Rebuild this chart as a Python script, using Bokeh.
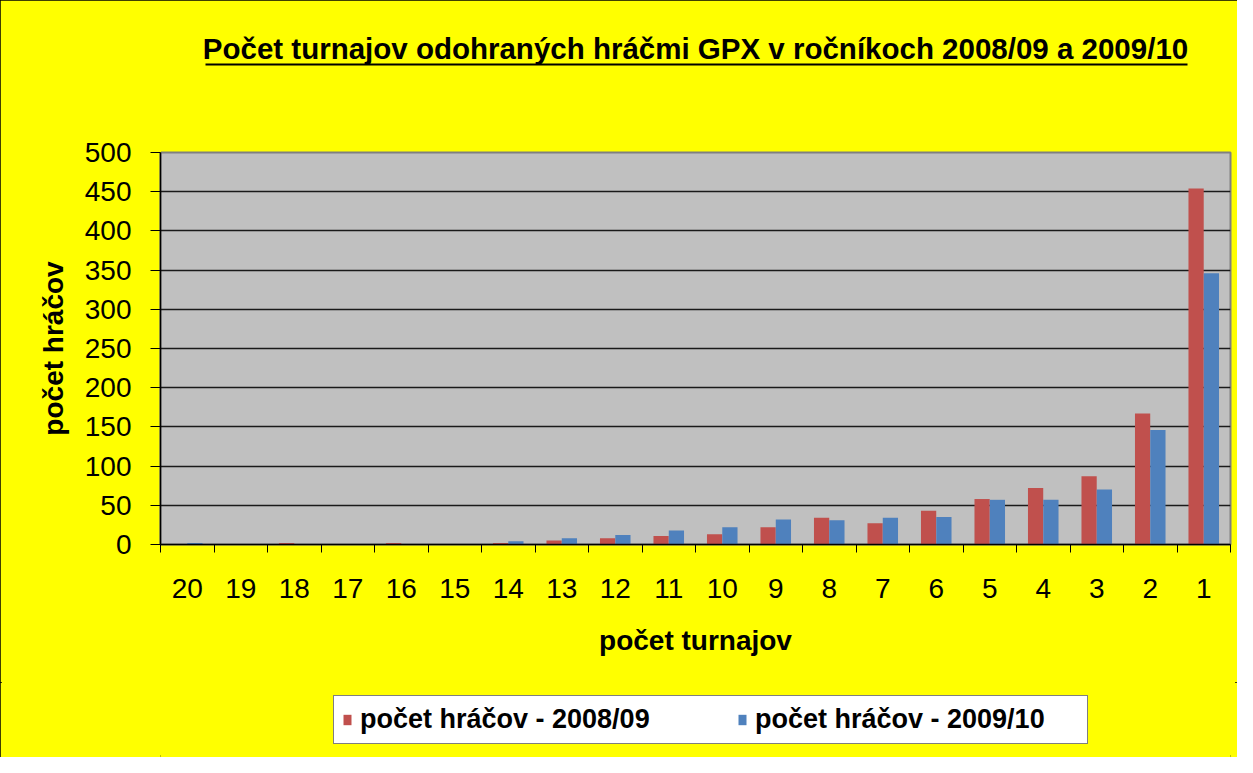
from bokeh.plotting import figure
from bokeh.layouts import column
from bokeh.models import (ColumnDataSource, FactorRange, Range1d, LinearAxis,
                          FixedTicker, CategoricalAxis, Legend, LegendItem, Title)
from bokeh.transform import dodge
from bokeh.embed import file_html
from bokeh.resources import INLINE

# ---- data ----
cats = ["20", "19", "18", "17", "16", "15", "14", "13", "12", "11",
        "10", "9", "8", "7", "6", "5", "4", "3", "2", "1"]
players_0809 = [0, 0, 2, 0, 2, 0, 2, 5, 8, 11, 13, 22, 34, 27, 43, 58, 72, 87, 167, 454]
players_0910 = [2, 0, 0, 0, 0, 0, 4, 8, 12, 18, 22, 32, 31, 34, 35, 57, 57, 70, 146, 346]
y_ticks = [0, 50, 100, 150, 200, 250, 300, 350, 400, 450, 500]
series_names = ["počet hráčov - 2008/09", "počet hráčov - 2009/10"]
title_text = "Počet turnajov odohraných hráčmi GPX v ročníkoch 2008/09 a 2009/10"
x_title = "počet turnajov"
y_title = "počet hráčov"

FONT = "Liberation Sans"
RED = "#C0504D"
BLUE = "#4F81BD"
BG = "#FFFF00"

src = ColumnDataSource(dict(cats=cats, a=players_0809, b=players_0910))

p = figure(x_range=FactorRange(factors=cats, range_padding=0),
           y_range=Range1d(0, 500),
           width=1237, height=682,
           output_backend="svg", toolbar_location=None, title=None,
           min_border_left=160, min_border_right=7,
           min_border_top=152, min_border_bottom=138,
           x_axis_location=None)

p.background_fill_color = "#C0C0C0"
p.border_fill_color = BG
p.outline_line_color = "#808080"
p.outline_line_width = 2

p.vbar(x=dodge("cats", -0.143, range=p.x_range), top="a", width=0.285,
       source=src, fill_color=RED, line_color=None)
p.vbar(x=dodge("cats", 0.143, range=p.x_range), top="b", width=0.285,
       source=src, fill_color=BLUE, line_color=None)

# grid
p.xgrid.grid_line_color = None
p.ygrid.ticker = FixedTicker(ticks=y_ticks)
p.ygrid.grid_line_color = "#1a1a1a"
p.ygrid.grid_line_width = 1.5

# y axis
ya = p.yaxis[0]
ya.ticker = FixedTicker(ticks=y_ticks)
ya.axis_line_color = "black"
ya.axis_line_width = 1.5
ya.major_tick_out = 10
ya.major_tick_in = 0
ya.major_tick_line_color = "black"
ya.minor_tick_line_color = None
ya.major_label_text_font = FONT
ya.major_label_text_font_size = "28px"
ya.major_label_text_color = "black"
ya.major_label_standoff = 19
ya.axis_label = y_title
ya.axis_label_text_font = FONT
ya.axis_label_text_font_size = "28px"
ya.axis_label_text_font_style = "bold"
ya.axis_label_text_color = "black"
ya.axis_label_standoff = 13


def spacer_axis(size):
    # invisible axis used only to reserve vertical space in a side panel
    ax = LinearAxis(ticker=FixedTicker(ticks=[0]))
    ax.axis_line_color = None
    ax.major_tick_line_color = BG
    ax.minor_tick_line_color = None
    ax.major_tick_out = size
    ax.major_tick_in = 0
    ax.major_label_text_font_size = "1px"
    ax.major_label_text_alpha = 0
    ax.major_label_standoff = 0
    return ax


# x axis: boundary tick marks between categories (nearest frame) + category labels
tick_axis = LinearAxis(ticker=FixedTicker(ticks=list(range(len(cats) + 1))))
tick_axis.axis_line_color = "black"
tick_axis.axis_line_width = 1.5
tick_axis.major_tick_out = 8
tick_axis.major_tick_in = 0
tick_axis.major_tick_line_color = "black"
tick_axis.minor_tick_line_color = None
tick_axis.major_label_text_font_size = "0px"
tick_axis.major_label_text_alpha = 0
tick_axis.major_label_standoff = 0
p.add_layout(tick_axis, "below")

cat_axis = CategoricalAxis()
cat_axis.axis_line_color = None
cat_axis.major_tick_line_color = None
cat_axis.minor_tick_line_color = None
cat_axis.major_label_text_font = FONT
cat_axis.major_label_text_font_size = "28px"
cat_axis.major_label_text_color = "black"
cat_axis.major_label_standoff = 20
cat_axis.axis_label = x_title
cat_axis.axis_label_text_font = FONT
cat_axis.axis_label_text_font_size = "28px"
cat_axis.axis_label_text_font_style = "bold"
cat_axis.axis_label_text_color = "black"
cat_axis.axis_label_standoff = 24
p.add_layout(cat_axis, "below")

# title area: spacer, underline, title text
p.add_layout(spacer_axis(88), "above")

uline = LinearAxis(ticker=FixedTicker(ticks=[10]), bounds=(0.84, 19.2))
uline.axis_line_color = "black"
uline.axis_line_width = 2
uline.major_tick_line_color = None
uline.minor_tick_line_color = None
uline.major_tick_out = 0
uline.major_tick_in = 0
uline.major_label_text_font_size = "1px"
uline.major_label_text_alpha = 0
uline.major_label_standoff = 0
p.add_layout(uline, "above")

ttl = Title(text=title_text, align="center", standoff=0,
            text_font=FONT, text_font_size="29.5px", text_font_style="bold",
            text_color="black")
p.add_layout(ttl, "above")

# ---- legend strip (separate figure under the chart) ----
lf = figure(x_range=FactorRange(factors=cats, range_padding=0),
            y_range=Range1d(1000, 2000),
            width=1237, height=75, output_backend="svg", toolbar_location=None,
            title=None, min_border=0, x_axis_location=None, y_axis_location=None)
lf.xgrid.visible = False
lf.ygrid.visible = False
lf.background_fill_color = BG
lf.border_fill_color = BG
lf.outline_line_color = None
# same series, outside the strip's visible range: used only as legend entries
l_a = lf.vbar(x=dodge("cats", -0.143, range=lf.x_range), top="a", width=0.285,
              source=src, fill_color=RED, line_color=None)
l_b = lf.vbar(x=dodge("cats", 0.143, range=lf.x_range), top="b", width=0.285,
              source=src, fill_color=BLUE, line_color=None)

lg = Legend(items=[LegendItem(label=series_names[0], renderers=[l_a]),
                   LegendItem(label=series_names[1], renderers=[l_b])],
            location=(173, 13), orientation="horizontal")
lg.label_text_font = FONT
lg.label_text_font_size = "27px"
lg.label_text_font_style = "bold"
lg.label_text_color = "black"
lg.glyph_width = 10
lg.glyph_height = 13
lg.label_standoff = 8
lg.label_width = 324
lg.spacing = 53
lg.padding = 8
lg.margin = 0
lg.border_line_color = "black"
lg.border_line_width = 1.5
lg.background_fill_color = "white"
lg.background_fill_alpha = 1
lf.add_layout(lg)

layout = column(p, lf, spacing=0,
                styles={"outline": "2px solid black", "outline-offset": "-2px",
                        "background-color": BG})

open("out.html", "w").write(file_html(layout, INLINE))
